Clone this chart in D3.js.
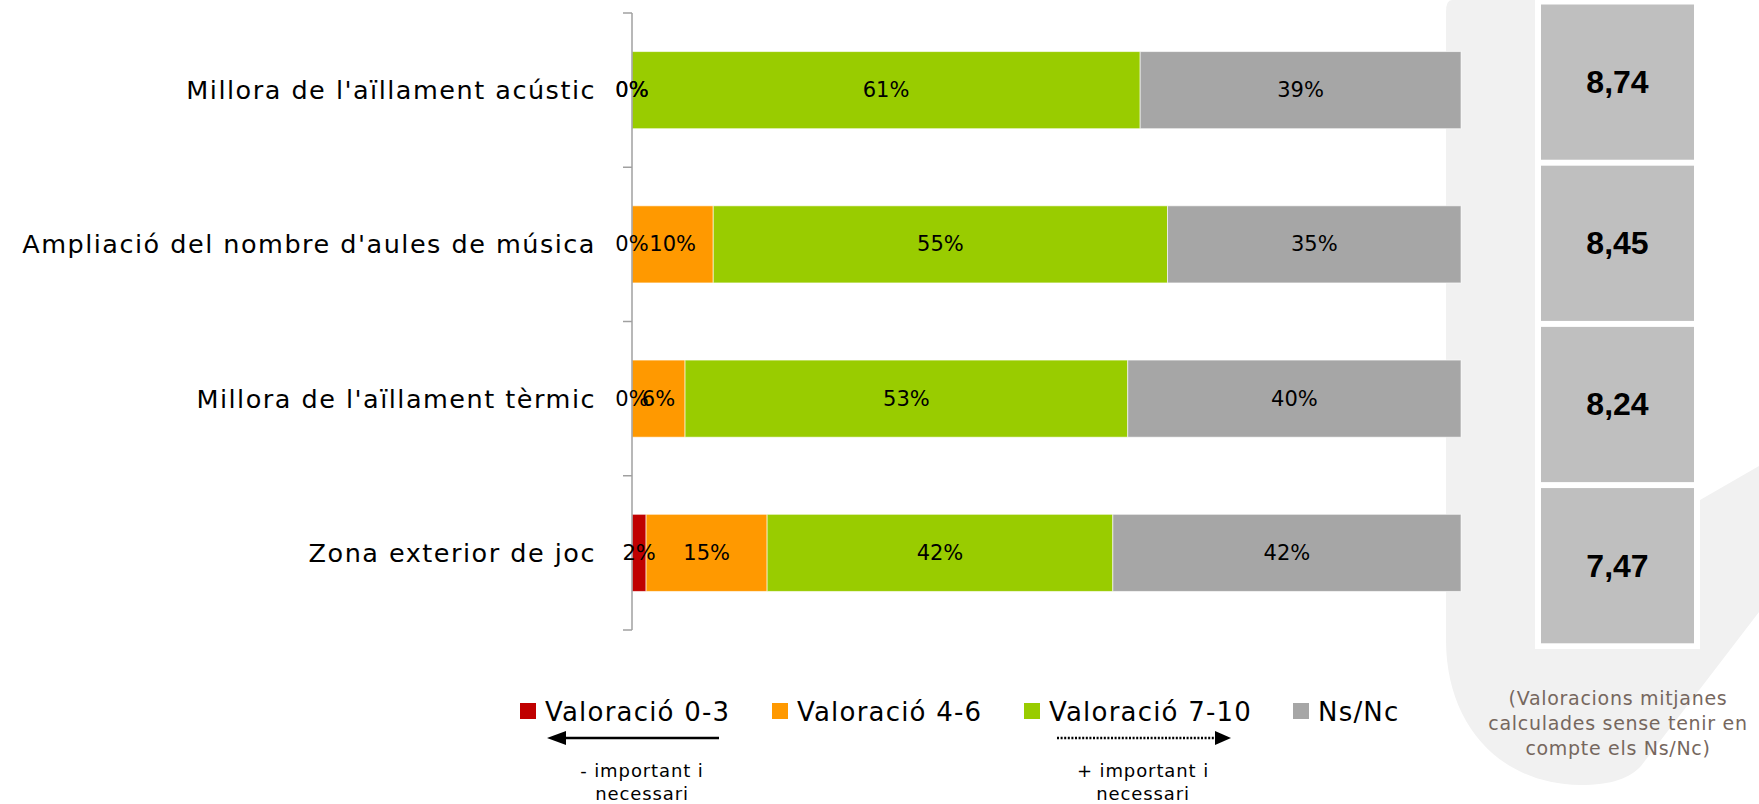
<!DOCTYPE html>
<html>
<head>
<meta charset="utf-8">
<script src="https://cdn.jsdelivr.net/npm/d3@7"></script>
<style>
  html, body { margin: 0; padding: 0; background: #ffffff; }
  svg { display: block; }
</style>
</head>
<body>
<svg id="chart" width="1759" height="804"></svg>
<script>
// ---------- DATA ----------
const categories = [
  "Millora de l'aïllament acústic",
  "Ampliació del nombre d'aules de música",
  "Millora de l'aïllament tèrmic",
  "Zona exterior de joc"
];
const seriesNames = ["Valoració 0-3", "Valoració 4-6", "Valoració 7-10", "Ns/Nc"];
const val0to3  = [0,    0,    0,    1.7];
const val4to6  = [0,    9.8,  6.4,  14.6];
const val7to10 = [61.3, 54.8, 53.4, 41.7];
const valNsNc  = [38.7, 35.4, 40.2, 42.0];
const meanScores = [8.74, 8.45, 8.24, 7.47];
const arrowTexts = [["- important i", "necessari"], ["+ important i", "necessari"]];
const noteLines = ["(Valoracions mitjanes", "calculades sense tenir en", "compte els Ns/Nc)"];

// ---------- STYLE ----------
const colors = ["#c00000", "#ff9900", "#99cc00", "#a6a6a6"];
const labelFont = "'DejaVu Sans', sans-serif";

const svg = d3.select("#chart");

// background watermark shape
svg.append("path")
  .attr("d", "M1452,0 Q1446,0 1446,12 L1446,640 C1446,725 1500,784 1580,785 C1612,785 1630,778 1641,766 L1759,612 L1759,466 L1700,500 L1700,0 Z")
  .attr("fill", "#f1f1f1");

// ---------- SCALES ----------
const x = d3.scaleLinear().domain([0, 100]).range([632, 1461]);
const y = d3.scaleBand().domain(categories).range([13, 630]).paddingInner(0.5).paddingOuter(0.25);

const table = categories.map((c, i) => ({
  cat: c,
  [seriesNames[0]]: val0to3[i],
  [seriesNames[1]]: val4to6[i],
  [seriesNames[2]]: val7to10[i],
  [seriesNames[3]]: valNsNc[i]
}));
const stacked = d3.stack().keys(seriesNames)(table);

// ---------- BARS ----------
const layers = svg.append("g").selectAll("g").data(stacked).join("g")
  .attr("fill", (d, i) => colors[i]);
layers.selectAll("rect").data(d => d).join("rect")
  .attr("x", d => x(d[0]))
  .attr("y", d => y(d.data.cat))
  .attr("width", d => Math.max(0, x(d[1]) - x(d[0])))
  .attr("height", y.bandwidth())
  .attr("stroke", "#ffffff")
  .attr("stroke-opacity", 0.6)
  .attr("stroke-width", 1);

// ---------- AXIS ----------
const axisG = svg.append("g").attr("stroke", "#a0a0a0").attr("stroke-width", 1.5);
const step = y.step();
const gap = step - y.bandwidth();
axisG.append("line").attr("x1", x(0)).attr("x2", x(0))
  .attr("y1", y.range()[0]).attr("y2", y.range()[1]);
const tickYs = categories.map(c => y(c) - gap / 2).concat([y.range()[1]]);
axisG.selectAll("line.tick").data(tickYs).join("line").attr("class", "tick")
  .attr("x1", x(0) - 9).attr("x2", x(0)).attr("y1", d => d).attr("y2", d => d);

// category labels
svg.append("g").selectAll("text").data(categories).join("text")
  .attr("x", x(0) - 36)
  .attr("y", d => y(d) + y.bandwidth() / 2)
  .attr("text-anchor", "end")
  .attr("dominant-baseline", "central")
  .attr("font-family", labelFont)
  .attr("font-size", 25.5)
  .attr("letter-spacing", 1.5)
  .attr("fill", "#000")
  .text(d => d);

// value labels
const labG = svg.append("g");
stacked.forEach(layer => {
  labG.selectAll(null).data(layer).join("text")
    .attr("x", d => (x(d[0]) + x(d[1])) / 2)
    .attr("y", d => y(d.data.cat) + y.bandwidth() / 2)
    .attr("text-anchor", "middle")
    .attr("dominant-baseline", "central")
    .attr("font-family", labelFont)
    .attr("font-size", 21)
    .attr("fill", "#000")
    .text(d => Math.round(d[1] - d[0]) + "%");
});

// ---------- MEAN SCORE BOXES ----------
svg.append("rect").attr("x", 1535).attr("y", 0).attr("width", 165).attr("height", 649).attr("fill", "#ffffff");
const yS = d3.scaleBand().domain(categories).range([4.5, 643.3]).paddingInner(0.037).paddingOuter(0);
const boxes = svg.append("g").selectAll("g").data(categories).join("g");
boxes.append("rect")
  .attr("x", 1541).attr("width", 153)
  .attr("y", d => yS(d)).attr("height", yS.bandwidth())
  .attr("fill", "#bfbfbf");
boxes.append("text")
  .attr("x", 1541 + 153 / 2)
  .attr("y", d => yS(d) + yS.bandwidth() / 2)
  .attr("text-anchor", "middle")
  .attr("dominant-baseline", "central")
  .attr("font-family", "'Liberation Sans', Arial, sans-serif")
  .attr("font-weight", "bold")
  .attr("font-size", 32)
  .attr("fill", "#000")
  .text((d, i) => meanScores[i].toFixed(2).replace(".", ","));

// note text
svg.append("g").selectAll("text").data(noteLines).join("text")
  .attr("x", 1618)
  .attr("y", (d, i) => 705 + i * 25)
  .attr("text-anchor", "middle")
  .attr("font-family", labelFont)
  .attr("font-size", 19)
  .attr("letter-spacing", 0.7)
  .attr("fill", "#76675e")
  .text(d => d);

// ---------- LEGEND ----------
const legendX = [520, 772, 1024, 1293];
const leg = svg.append("g").selectAll("g").data(seriesNames).join("g")
  .attr("transform", (d, i) => `translate(${legendX[i]},0)`);
leg.append("rect").attr("x", 0).attr("y", 703).attr("width", 16).attr("height", 16)
  .attr("fill", (d, i) => colors[i]);
leg.append("text").attr("x", 25).attr("y", 721)
  .attr("font-family", labelFont)
  .attr("font-size", 26)
  .attr("letter-spacing", 1.2)
  .attr("fill", "#000")
  .text(d => d);

// ---------- ARROWS ----------
const ar = svg.append("g");
ar.append("line").attr("x1", 562).attr("x2", 719).attr("y1", 738).attr("y2", 738)
  .attr("stroke", "#000").attr("stroke-width", 2.5);
ar.append("path").attr("d", "M547,738 L566,731 L566,745 Z").attr("fill", "#000");
ar.append("line").attr("x1", 1057).attr("x2", 1219).attr("y1", 738).attr("y2", 738)
  .attr("stroke", "#000").attr("stroke-width", 2.5).attr("stroke-dasharray", "2,1.6");
ar.append("path").attr("d", "M1231,738 L1215,731 L1215,745 Z").attr("fill", "#000");

const arrowCx = [642, 1143];
arrowTexts.forEach((lines, k) => {
  ar.selectAll(null).data(lines).join("text")
    .attr("x", arrowCx[k])
    .attr("y", (d, i) => 777 + i * 23)
    .attr("text-anchor", "middle")
    .attr("font-family", labelFont)
    .attr("font-size", 18)
    .attr("letter-spacing", 0.9)
    .attr("fill", "#000")
    .text(d => d);
});
</script>
</body>
</html>
